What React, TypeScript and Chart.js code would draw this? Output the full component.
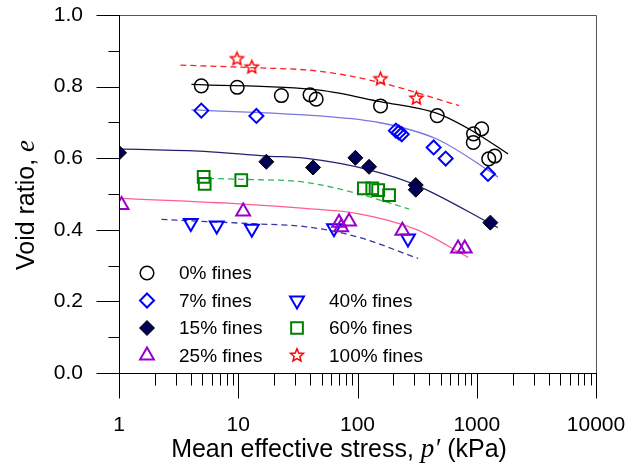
import React, { useEffect, useRef } from 'react';
import { Chart, registerables } from 'chart.js';

Chart.register(...registerables);

const SANS = '"Liberation Sans", Arial, sans-serif';
const SERIF = '"Liberation Serif", "Times New Roman", serif';

// ---- measured points (p' in kPa, void ratio e) ----
const fines0P = [4.9, 9.8, 23, 40, 45, 156, 466, 940, 1100, 935, 1260, 1415];
const fines0E = [0.802, 0.798, 0.775, 0.777, 0.765, 0.746, 0.719, 0.668, 0.682, 0.644, 0.598, 0.606];

const fines7P = [4.9, 14.2, 210, 222, 235, 435, 549, 1242];
const fines7E = [0.733, 0.718, 0.677, 0.672, 0.667, 0.630, 0.599, 0.556];

const fines15P = [1, 17.2, 42.4, 96, 125, 308, 308, 1300];
const fines15E = [0.615, 0.590, 0.574, 0.601, 0.576, 0.525, 0.512, 0.420];

const fines25P = [1.05, 11.0, 70, 85, 73, 238, 697, 793];
const fines25E = [0.469, 0.451, 0.420, 0.423, 0.407, 0.397, 0.348, 0.348];

const fines40P = [4.0, 6.6, 13.0, 63.5, 265];
const fines40E = [0.419, 0.412, 0.403, 0.404, 0.376];

const fines60P = [5.13, 5.23, 10.6, 113, 133, 149, 184];
const fines60E = [0.548, 0.528, 0.539, 0.516, 0.516, 0.511, 0.497];

const fines100P = [9.76, 13.0, 156, 312];
const fines100E = [0.877, 0.854, 0.821, 0.767];

// ---- fitted curves ----
const fit0P = [4.05, 48, 155, 466, 942, 1830];
const fit0E = [0.806, 0.790, 0.758, 0.725, 0.674, 0.612];

const fit7P = [4.05, 48, 155, 466, 1250, 1507];
const fit7E = [0.735, 0.718, 0.699, 0.653, 0.566, 0.547];

const fit15P = [1, 5.2, 17, 36, 127, 310, 1290, 1500];
const fit15E = [0.626, 0.619, 0.606, 0.600, 0.567, 0.525, 0.418, 0.406];

const fit25P = [1, 11, 36, 98, 310, 846];
const fit25E = [0.488, 0.472, 0.460, 0.446, 0.401, 0.323];

const fit40P = [2.27, 13, 36, 98, 322];
const fit40E = [0.429, 0.417, 0.409, 0.381, 0.320];

const fit60P = [4.6, 10.6, 36, 98, 271];
const fit60E = [0.544, 0.541, 0.533, 0.502, 0.458];

const fit100P = [3.27, 13, 48, 156, 710];
const fit100E = [0.860, 0.853, 0.843, 0.811, 0.747];

// ---- axis ticks ----
const xDecades = [1, 10, 100, 1000, 10000];
const yLabelTicks = [0, 0.2, 0.4, 0.6, 0.8, 1.0];
const yMinorTicks = [0.1, 0.3, 0.5, 0.7, 0.9];
const xMinorMultipliers = [2, 3, 4, 5, 6, 7, 8, 9];

const legendLabels = ['0% fines', '7% fines', '15% fines', '25% fines', '40% fines', '60% fines', '100% fines'];

const pts = (xs: number[], ys: number[]) => xs.map((x, i) => ({ x, y: ys[i] }));

function starPath(ctx: CanvasRenderingContext2D, cx: number, cy: number, R: number) {
  const r = R * 0.45;
  ctx.beginPath();
  for (let i = 0; i < 10; i++) {
    const a = -Math.PI / 2 + (i * Math.PI) / 5;
    const rr = i % 2 === 0 ? R : r;
    const px = cx + rr * Math.cos(a);
    const py = cy + rr * Math.sin(a);
    if (i === 0) ctx.moveTo(px, py);
    else ctx.lineTo(px, py);
  }
  ctx.closePath();
}

function makeStar(R: number, color: string, lw: number) {
  const c = document.createElement('canvas');
  const s = Math.ceil(2 * R + 2 * lw + 4);
  c.width = s;
  c.height = s;
  const g = c.getContext('2d')!;
  g.strokeStyle = color;
  g.lineWidth = lw;
  g.lineJoin = 'miter';
  starPath(g, s / 2, s / 2, R);
  g.stroke();
  return c;
}

type Mk = { kind: string; r: number; stroke: string; fill: string; lw: number };
const markers: Mk[] = [
  { kind: 'circle', r: 6.8, stroke: '#000000', fill: 'transparent', lw: 1.5 },
  { kind: 'diamond', r: 7, stroke: '#0000FF', fill: 'transparent', lw: 2 },
  { kind: 'diamond', r: 7.5, stroke: '#000000', fill: '#000055', lw: 1 },
  { kind: 'triangle', r: 8, stroke: '#9900CC', fill: 'transparent', lw: 2 },
  { kind: 'triangleDown', r: 8, stroke: '#0000FF', fill: 'transparent', lw: 2 },
  { kind: 'square', r: 8.3, stroke: '#008000', fill: 'transparent', lw: 2 },
  { kind: 'star', r: 6.8, stroke: '#FF0000', fill: 'transparent', lw: 1.5 },
];

function drawMarker(ctx: CanvasRenderingContext2D, m: Mk, x: number, y: number) {
  ctx.save();
  ctx.strokeStyle = m.stroke;
  ctx.fillStyle = m.fill;
  ctx.lineWidth = m.lw;
  const r = m.r;
  ctx.beginPath();
  if (m.kind === 'circle') {
    ctx.arc(x, y, r, 0, Math.PI * 2);
  } else if (m.kind === 'diamond') {
    ctx.moveTo(x, y - r); ctx.lineTo(x + r, y); ctx.lineTo(x, y + r); ctx.lineTo(x - r, y); ctx.closePath();
  } else if (m.kind === 'triangle') {
    const h = r * Math.sqrt(3) / 2;
    ctx.moveTo(x, y - r); ctx.lineTo(x + h, y + r / 2); ctx.lineTo(x - h, y + r / 2); ctx.closePath();
  } else if (m.kind === 'triangleDown') {
    const h = r * Math.sqrt(3) / 2;
    ctx.moveTo(x, y + r); ctx.lineTo(x + h, y - r / 2); ctx.lineTo(x - h, y - r / 2); ctx.closePath();
  } else if (m.kind === 'square') {
    const s = r * Math.SQRT1_2;
    ctx.rect(x - s, y - s, 2 * s, 2 * s);
  } else if (m.kind === 'star') {
    starPath(ctx, x, y, r);
  }
  if (m.fill !== 'transparent') ctx.fill();
  ctx.stroke();
  ctx.restore();
}

const decorPlugin = {
  id: 'decor',
  afterDraw(chart: any) {
    const { ctx, chartArea: a, scales } = chart;
    const xs = scales.x;
    const ys = scales.y;
    ctx.save();
    ctx.lineWidth = 1;
    // frame
    ctx.strokeStyle = '#555555';
    ctx.beginPath();
    ctx.moveTo(a.left, Math.round(a.top) + 0.5);
    ctx.lineTo(Math.round(a.right) + 0.5, Math.round(a.top) + 0.5);
    ctx.lineTo(Math.round(a.right) + 0.5, a.bottom);
    ctx.stroke();
    ctx.strokeStyle = '#000000';
    ctx.beginPath();
    const lx = Math.round(a.left) + 0.5;
    const by = Math.round(a.bottom) + 0.5;
    ctx.moveTo(lx, a.top);
    ctx.lineTo(lx, by);
    ctx.lineTo(a.right + 1, by);
    // x ticks
    for (const d of xDecades) {
      const px = Math.round(xs.getPixelForValue(d)) + 0.5;
      ctx.moveTo(px, by);
      ctx.lineTo(px, by + 25);
      if (d < 10000) {
        for (const m of xMinorMultipliers) {
          const qx = Math.round(xs.getPixelForValue(d * m)) + 0.5;
          ctx.moveTo(qx, by);
          ctx.lineTo(qx, by + 12);
        }
      }
    }
    // y ticks
    for (const v of yLabelTicks) {
      const py = Math.round(ys.getPixelForValue(v)) + 0.5;
      ctx.moveTo(lx, py);
      ctx.lineTo(lx - 23, py);
    }
    for (const v of yMinorTicks) {
      const py = Math.round(ys.getPixelForValue(v)) + 0.5;
      ctx.moveTo(lx, py);
      ctx.lineTo(lx - 11, py);
    }
    ctx.stroke();

    // axis titles
    ctx.fillStyle = '#000000';
    ctx.textBaseline = 'alphabetic';
    const segsX: [string, string][] = [
      ['Mean effective stress, ', `25px ${SANS}`],
      ['p\u2032', `italic 27px ${SERIF}`],
      [' (kPa)', `25px ${SANS}`],
    ];
    let total = 0;
    for (const [t, f] of segsX) { ctx.font = f; total += ctx.measureText(t).width; }
    let cx = 339 - total / 2;
    for (const [t, f] of segsX) { ctx.font = f; ctx.fillText(t, cx, 457); cx += ctx.measureText(t).width; }

    ctx.save();
    ctx.translate(34, 205);
    ctx.rotate(-Math.PI / 2);
    const segsY: [string, string][] = [
      ['Void ratio, ', `25px ${SANS}`],
      ['e', `italic 27px ${SERIF}`],
    ];
    total = 0;
    for (const [t, f] of segsY) { ctx.font = f; total += ctx.measureText(t).width; }
    cx = -total / 2;
    for (const [t, f] of segsY) { ctx.font = f; ctx.fillText(t, cx, 0); cx += ctx.measureText(t).width; }
    ctx.restore();

    // legend
    const rowsY = [273, 300.5, 328, 355.5];
    const slots: [number, number, number][] = [
      [0, 0, 0], [1, 0, 1], [2, 0, 2], [3, 0, 3], [4, 1, 1], [5, 1, 2], [6, 1, 3],
    ];
    const colMarkerX = [147, 297];
    const colTextX = [179, 329];
    ctx.font = `19px ${SANS}`;
    ctx.textBaseline = 'middle';
    for (const [i, col, row] of slots) {
      drawMarker(ctx, markers[i], colMarkerX[col], rowsY[row]);
      ctx.fillStyle = '#000000';
      ctx.fillText(legendLabels[i], colTextX[col], rowsY[row] + 1);
    }
    ctx.restore();
  },
};

export default function App() {
  const ref = useRef<HTMLCanvasElement>(null);
  useEffect(() => {
    if (!ref.current) return;
    const star = makeStar(6.8, '#FF0000', 1.5);
    const pointSet = [
      { d: pts(fines0P, fines0E), style: 'circle', rot: 0 },
      { d: pts(fines7P, fines7E), style: 'rectRot', rot: 0 },
      { d: pts(fines15P, fines15E), style: 'rectRot', rot: 0 },
      { d: pts(fines25P, fines25E), style: 'triangle', rot: 0 },
      { d: pts(fines40P, fines40E), style: 'triangle', rot: 180 },
      { d: pts(fines60P, fines60E), style: 'rect', rot: 0 },
      { d: pts(fines100P, fines100E), style: star as any, rot: 0 },
    ];
    const markerDatasets = pointSet.map((s, i) => ({
      label: legendLabels[i],
      data: s.d,
      showLine: false,
      pointStyle: s.style,
      rotation: s.rot,
      pointRadius: markers[i].r,
      pointBorderWidth: markers[i].lw,
      pointBorderColor: markers[i].stroke,
      pointBackgroundColor: markers[i].fill,
      borderColor: markers[i].stroke,
      backgroundColor: markers[i].fill,
    }));
    const curveDefs = [
      { d: pts(fit0P, fit0E), c: '#000000', dash: [] as number[] },
      { d: pts(fit7P, fit7E), c: '#7878E0', dash: [] },
      { d: pts(fit15P, fit15E), c: '#22226E', dash: [] },
      { d: pts(fit25P, fit25E), c: '#FF5E8E', dash: [] },
      { d: pts(fit40P, fit40E), c: '#3535A5', dash: [6, 4] },
      { d: pts(fit60P, fit60E), c: '#2EB85C', dash: [6, 4] },
      { d: pts(fit100P, fit100E), c: '#FF2020', dash: [6, 4] },
    ];
    const curveDatasets = curveDefs.map((c) => ({
      label: '',
      data: c.d,
      showLine: true,
      pointRadius: 0,
      borderColor: c.c,
      borderWidth: 1.3,
      borderDash: c.dash,
      cubicInterpolationMode: 'monotone' as const,
      fill: false,
    }));

    const chart = new Chart(ref.current, {
      type: 'scatter',
      data: { datasets: [...markerDatasets, ...curveDatasets] as any },
      options: {
        responsive: false,
        animation: false,
        events: [],
        layout: { padding: { top: 15, right: 45, left: 0, bottom: 0 } },
        plugins: { legend: { display: false }, tooltip: { enabled: false } },
        scales: {
          x: {
            type: 'logarithmic',
            min: 1,
            max: 10000,
            grid: { display: false, drawTicks: true, tickLength: 40 },
            border: { display: false },
            afterBuildTicks: (s: any) => { s.ticks = xDecades.map((value) => ({ value })); },
            afterFit: (s: any) => { s.height = 95; },
            ticks: {
              autoSkip: false,
              maxRotation: 0,
              minRotation: 0,
              padding: 0,
              color: '#000000',
              font: { family: SANS, size: 21 },
              callback: (v: any) => String(v),
            },
          },
          y: {
            type: 'linear',
            min: 0,
            max: 1,
            grid: { display: false, drawTicks: true, tickLength: 36 },
            border: { display: false },
            afterBuildTicks: (s: any) => { s.ticks = yLabelTicks.map((value) => ({ value })); },
            afterFit: (s: any) => { s.width = 119; },
            ticks: {
              padding: 0,
              color: '#000000',
              font: { family: SANS, size: 21 },
              callback: (v: any) => Number(v).toFixed(1),
            },
          },
        },
      },
      plugins: [decorPlugin],
    });
    return () => chart.destroy();
  }, []);

  return (
    <div style={{ position: 'fixed', left: 0, top: 0, width: 641, height: 468, background: '#ffffff' }}>
      <canvas ref={ref} width={641} height={468} style={{ width: 641, height: 468 }} />
    </div>
  );
}
